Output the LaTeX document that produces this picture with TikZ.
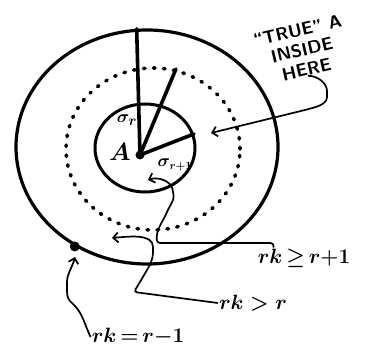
\documentclass[tikz,border=0pt]{standalone}
\usepackage{amsmath,amssymb}
\usepackage{tikz}
\usetikzlibrary{positioning,arrows.meta,calc,shapes.geometric}

\begin{document}
\begin{tikzpicture}[x=1pt,y=1pt,
 ring/.style={ellipse,draw,inner sep=0pt,line width=3.2pt},
 dotring/.style={ellipse,draw,inner sep=0pt,line width=3.6pt,line cap=round,dash pattern=on 1.5pt off 8.5pt},
 spoke/.style={line width=3.6pt,line cap=round},
 lead/.style={line width=1.7pt,rounded corners=3pt,-{Straight Barb[length=5pt,width=10pt,line width=1.7pt]}},
 rank/.style={font=\fontsize{22}{24}\selectfont\boldmath,inner sep=1pt},
 note/.style={font=\fontsize{18}{20}\sffamily\bfseries\selectfont,inner sep=0pt,align=center},
 sig/.style={font=\fontsize{19}{21}\selectfont\boldmath,inner sep=0pt}]
\useasboundingbox (0,0) rectangle (366,-352);
\node[ring,minimum width=262pt,minimum height=234pt] (outer) at (147,-147) {};
\node[dotring,minimum width=174pt,minimum height=162pt] (dotted) at (153,-149) {};
\node[ring,line width=3pt,minimum width=100pt,minimum height=88pt] (inner) at (145,-148) {};
\coordinate (ctr) at (140,-155);
\coordinate (rim) at (outer.234);
\fill (ctr) circle[radius=4.5];
\fill (rim) circle[radius=5];
\draw[spoke] (ctr) -- (outer.95);
\draw[spoke] (ctr) -- (dotted.74);
\draw[spoke] (ctr) -- (inner.16);
\node[font=\fontsize{28}{30}\selectfont\boldmath,inner sep=0pt] (A) at (120,-152) {$A$};
\node[sig] (sr) at (127,-120) {$\sigma_r$};
\node[sig,font=\fontsize{16}{18}\selectfont\boldmath] (srr) at (175,-165) {$\sigma_{r+1}$};
\node[note,rotate=13] (true) at (302,-50) {``TRUE'' A\\INSIDE\\HERE};
\node[rank] (r1) at (304,-258) {$rk\,{\geq}\,r{+}1$};
\node[rank] (r2) at (253,-303) {$rk > r$};
\node[rank] (r3) at (138,-337) {$rk\,{=}\,r{-}1$};
\coordinate (inA) at (148,-180);
\coordinate (inB) at (112,-238);
\coordinate (inC) at (75,-257);
\coordinate (inD) at (211,-133);
\draw[lead] ($(r1.north west)+(17,0)$) |- (157,-243) to[out=95,in=-115] (167,-212)
 to[out=65,in=-80] (173,-192) to[out=100,in=20] (inA);
\draw[lead] (r2.west) -- (134,-292) -- (150,-265) to[out=70,in=-90] (153,-250)
 to[out=90,in=5] (inB);
\draw[lead] (r3.west) to[out=115,in=-45] (72,-303) to[out=135,in=-90] (67,-285)
 to[out=90,in=-105] (inC);
\draw[lead] (true.south) to[out=0,in=90] (327,-94) to[out=-90,in=15] (305,-110) -- (inD);
\end{tikzpicture}
\end{document}
